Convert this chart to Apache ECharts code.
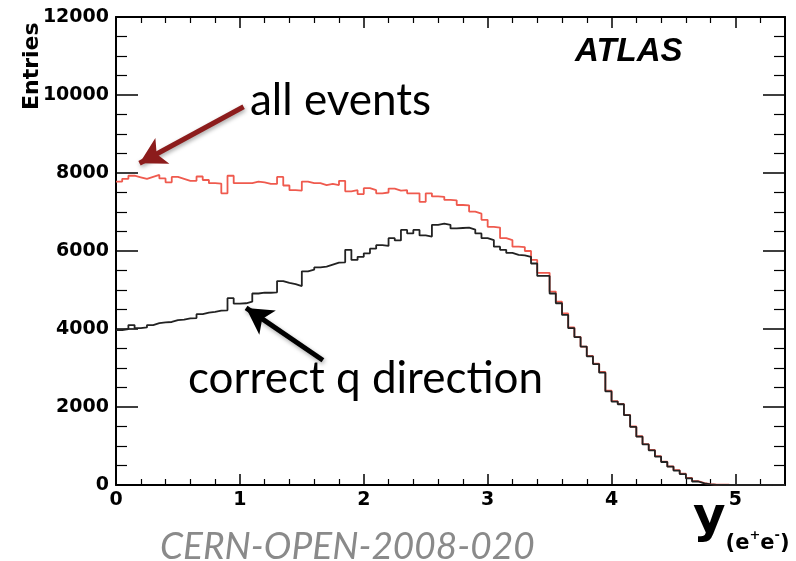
<!DOCTYPE html>
<html><head><meta charset="utf-8">
<script src="https://cdn.jsdelivr.net/npm/echarts@6/dist/echarts.min.js"></script>
<style>html,body{margin:0;padding:0;background:#fff}#c{width:796px;height:561px}</style>
</head><body><div id="c"></div>
<script>
// Histogram binning (x = rapidity y(e+e-)), 0.05 wide bins from 0 to 5.4
const binStart = 0;
const binWidth = 0.05;
// "all events" (red)
const allEvents = [7780,7850,7930,7890,7850,7900,7950,7860,7760,7900,
  7850,7800,7800,7910,7820,7740,7730,7480,7930,7740,
  7740,7740,7780,7760,7720,7720,7900,7680,7560,7550,
  7780,7740,7740,7690,7720,7690,7800,7530,7560,7460,
  7610,7560,7480,7500,7600,7550,7560,7480,7480,7260,
  7480,7400,7390,7310,7300,7180,7170,7010,6960,6800,
  6620,6600,6330,6280,6110,6100,6000,5770,5440,5440,
  4960,4700,4400,4040,3800,3550,3310,3110,2900,2420,
  2150,2080,1800,1500,1250,1050,900,740,600,480,
  380,290,180,100,50,25,12,8,6,5,
  3,0,0,0,0,0,0,0];
// "correct q direction" (black)
const correctQ = [3970,4000,4100,4020,4040,4100,4150,4170,4180,4230,
  4240,4270,4280,4380,4420,4440,4470,4480,4790,4650,
  4660,4700,4910,4930,4930,4940,5230,5180,5150,5100,
  5480,5520,5580,5600,5650,5700,5710,6030,5770,5850,
  5940,6060,6150,6130,6330,6270,6540,6450,6540,6400,
  6370,6670,6700,6670,6580,6590,6600,6550,6450,6330,
  6280,6110,6030,5950,5900,5890,5850,5680,5360,5360,
  4910,4660,4360,4020,3790,3550,3300,3100,2880,2400,
  2140,2070,1790,1490,1240,1040,890,730,590,470,
  370,280,170,90,40,15,5,0,0,0,
  0,0,0,0,0,0,0,0];
const xTicks = [0,1,2,3,4,5];
const yTicks = [0,2000,4000,6000,8000,10000,12000];
// annotation arrows in data coordinates [from, to]
const arrowAll = [[1.03, 9700], [0.19, 8250]];
const arrowCorrect = [[1.67, 3200], [1.05, 4540]];

function toStep(vals){
  const d = vals.map((v,i)=>[+(binStart+i*binWidth).toFixed(4), v]);
  d.push([+(binStart+vals.length*binWidth).toFixed(4), vals[vals.length-1]]);
  return d;
}

const chart = echarts.init(document.getElementById('c'), null, {renderer:'canvas'});
const axisFont = {fontFamily:'DejaVu Sans', fontWeight:'bold', fontSize:19, color:'#000'};
const grid = {left:116, top:17, right:11, bottom:76};

function arrowLine(pair, color){
  return {
    silent:true, symbol:['none','arrow'], symbolSize:[22,26],
    label:{show:false},
    lineStyle:{color:color, width:5, type:'solid', shadowBlur:4, shadowColor:'rgba(0,0,0,0.35)', shadowOffsetX:1, shadowOffsetY:2},
    emphasis:{disabled:true},
    data:[[{coord:pair[0]},{coord:pair[1]}]]
  };
}

chart.setOption({
  animation:false,
  grid: grid,
  xAxis:[{
    type:'value', min:xTicks[0], max:5.4, interval:1,
    axisLine:{lineStyle:{color:'#000', width:2}},
    axisTick:{inside:true, length:11, lineStyle:{color:'#000', width:1.5}},
    minorTick:{show:true, splitNumber:5, length:6, lineStyle:{color:'#000', width:1.2}},
    splitLine:{show:false},
    axisLabel:Object.assign({margin:6, formatter:v=>xTicks.includes(v)?String(v):''}, axisFont)
  },{
    type:'value', position:'top', min:0, max:5.4, interval:1,
    axisLine:{onZero:false, lineStyle:{color:'#000', width:2}},
    axisTick:{inside:true, length:11, lineStyle:{color:'#000', width:1.5}},
    minorTick:{show:true, splitNumber:5, length:6, lineStyle:{color:'#000', width:1.2}},
    splitLine:{show:false}, axisLabel:{show:false}
  }],
  yAxis:[{
    type:'value', min:yTicks[0], max:yTicks[yTicks.length-1], interval:2000,
    axisLine:{show:true, lineStyle:{color:'#000', width:2}},
    axisTick:{show:true, inside:true, length:22, lineStyle:{color:'#000', width:1.5}},
    minorTick:{show:true, splitNumber:4, length:11, lineStyle:{color:'#000', width:1.2}},
    splitLine:{show:false},
    axisLabel:Object.assign({margin:7, formatter:v=>String(v)}, axisFont)
  },{
    type:'value', position:'right', min:0, max:12000, interval:2000,
    axisLine:{show:true, onZero:false, lineStyle:{color:'#000', width:2}},
    axisTick:{show:true, inside:true, length:22, lineStyle:{color:'#000', width:1.5}},
    minorTick:{show:true, splitNumber:4, length:11, lineStyle:{color:'#000', width:1.2}},
    splitLine:{show:false}, axisLabel:{show:false}
  }],
  series:[{
    name:'all events', type:'line', step:'end', showSymbol:false, symbol:'none',
    data:toStep(allEvents), lineStyle:{color:'#ef5a4e', width:1.8}, z:2,
    markLine:arrowLine(arrowAll, '#8c1c1c')
  },{
    name:'correct q direction', type:'line', step:'end', showSymbol:false, symbol:'none',
    data:toStep(correctQ), lineStyle:{color:'#222', width:1.8}, z:3,
    markLine:arrowLine(arrowCorrect, '#000')
  }],
  graphic:[
    {type:'text', left:250, top:79, style:{text:'all events', font:'44px Lato', fill:'#000'}},
    {type:'text', left:188, top:357, style:{text:'correct q direction', font:'44px Lato', fill:'#000'}},
    {type:'text', left:575, top:35, style:{text:'ATLAS', font:'italic bold 33px "Liberation Sans"', fill:'#000'}},
    {type:'text', left:160, top:529, style:{text:'CERN-OPEN-2008-020', font:'italic 37px Lato', fill:'#8a8a8a'}},
    {type:'text', x:21, y:110, rotation:Math.PI/2, style:{text:'Entries', font:'bold 22px "DejaVu Sans"', fill:'#000', textAlign:'left', textVerticalAlign:'top'}},
    {type:'text', left:693, top:494, style:{
      text:'{a|y}{b|(e}{s|+}{b|e}{s|-}{b|)}',
      rich:{
        a:{fontFamily:'DejaVu Sans', fontWeight:'bold', fontSize:50, fill:'#000', verticalAlign:'bottom', padding:[0,0,10,0]},
        b:{fontFamily:'DejaVu Sans', fontWeight:'bold', fontSize:21, fill:'#000', verticalAlign:'bottom'},
        s:{fontFamily:'DejaVu Sans', fontWeight:'bold', fontSize:13, fill:'#000', verticalAlign:'bottom', padding:[0,0,12,0]}
      }}}
  ]
});
</script></body></html>
